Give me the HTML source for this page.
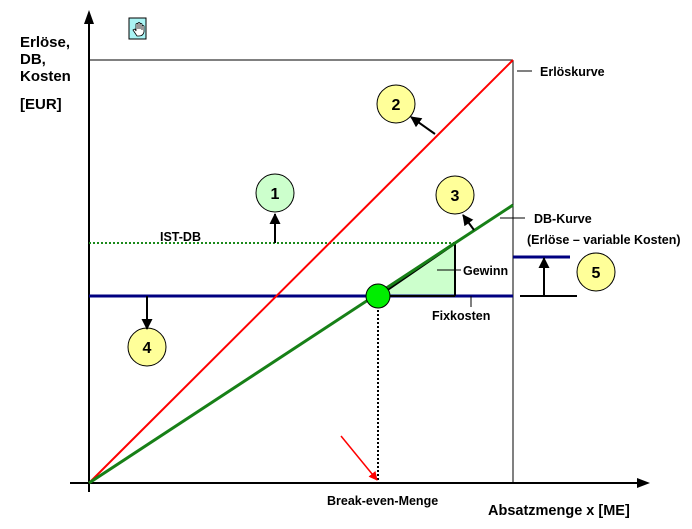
<!DOCTYPE html>
<html><head><meta charset="utf-8"><style>
html,body{margin:0;padding:0;background:#fff;width:692px;height:529px;overflow:hidden}
text{font-family:"Liberation Sans",Arial,sans-serif;font-weight:bold;fill:#000}
</style></head><body>
<svg width="692" height="529" viewBox="0 0 692 529" xmlns="http://www.w3.org/2000/svg">
<defs>
<marker id="ah" markerWidth="11" markerHeight="11" refX="10" refY="5.5" orient="auto" markerUnits="userSpaceOnUse"><path d="M0,0 L11,5.5 L0,11z" fill="#000"/></marker>
<marker id="ar" markerWidth="9" markerHeight="9" refX="8" refY="4.5" orient="auto" markerUnits="userSpaceOnUse"><path d="M0,0 L9,4.5 L0,9z" fill="#f00"/></marker>
</defs>
<!-- frame -->
<line x1="89" y1="60" x2="513" y2="60" stroke="#000" stroke-width="1"/>
<line x1="513" y1="60" x2="513" y2="483" stroke="#000" stroke-width="1"/>
<!-- axes -->
<line x1="89" y1="20" x2="89" y2="492" stroke="#000" stroke-width="2"/>
<path d="M89,10 L84,24 L94,24z" fill="#000"/>
<line x1="70" y1="483" x2="640" y2="483" stroke="#000" stroke-width="2"/>
<path d="M650,483 L637,478 L637,488z" fill="#000"/>
<!-- IST-DB -->
<line x1="89" y1="243" x2="455" y2="243" stroke="#1a8a1a" stroke-width="2" stroke-dasharray="2,2"/>
<!-- triangle -->
<path d="M378,296 L455,243 L455,296z" fill="#ccffcc"/>
<!-- fixkosten -->
<line x1="89" y1="296" x2="513" y2="296" stroke="#000080" stroke-width="3"/>
<line x1="378" y1="296" x2="455" y2="243" stroke="#000" stroke-width="3"/>
<line x1="455" y1="243" x2="455" y2="296" stroke="#000" stroke-width="2"/>
<line x1="380" y1="296" x2="455" y2="296" stroke="#000" stroke-width="2"/>
<!-- curves -->
<line x1="89" y1="483" x2="513" y2="60" stroke="#f00" stroke-width="2"/>
<line x1="89" y1="483" x2="513" y2="205" stroke="#178017" stroke-width="3"/>
<!-- dotted vertical -->
<line x1="378" y1="306" x2="378" y2="483" stroke="#000" stroke-width="2" stroke-dasharray="2,2"/>
<!-- red arrow -->
<line x1="341" y1="436" x2="377" y2="480" stroke="#f00" stroke-width="1.5" marker-end="url(#ar)"/>
<!-- break-even dot -->
<circle cx="378" cy="296" r="12" fill="#00ee00" stroke="#000" stroke-width="1"/>
<!-- label ticks -->
<line x1="517" y1="71" x2="532" y2="71" stroke="#000"/>
<line x1="500" y1="218" x2="525" y2="218" stroke="#000"/>
<line x1="437" y1="270" x2="461" y2="270" stroke="#000"/>
<line x1="471" y1="296" x2="471" y2="307" stroke="#000"/>
<!-- 5 -->
<line x1="513" y1="257" x2="570" y2="257" stroke="#000080" stroke-width="3"/>
<line x1="520" y1="296" x2="577" y2="296" stroke="#000" stroke-width="2"/>
<!-- circles -->
<g stroke="#000" stroke-width="1">
<circle cx="275" cy="193" r="19" fill="#ccffcc"/>
<circle cx="396" cy="104" r="19" fill="#ffff99"/>
<circle cx="455" cy="195" r="19" fill="#ffff99"/>
<circle cx="147" cy="347" r="19" fill="#ffff99"/>
<circle cx="596" cy="272" r="19" fill="#ffff99"/>
</g>
<g font-size="16" text-anchor="middle">
<text x="275" y="199">1</text>
<text x="396" y="110">2</text>
<text x="455" y="201">3</text>
<text x="147" y="353">4</text>
<text x="596" y="278">5</text>
</g>
<!-- arrows -->
<line x1="544" y1="296" x2="544" y2="258" stroke="#000" stroke-width="2" marker-end="url(#ah)"/>
<line x1="275" y1="243" x2="275" y2="214" stroke="#000" stroke-width="2" marker-end="url(#ah)"/>
<line x1="435" y1="134" x2="411" y2="117" stroke="#000" stroke-width="2" marker-end="url(#ah)"/>
<line x1="474" y1="230" x2="463" y2="215" stroke="#000" stroke-width="2" marker-end="url(#ah)"/>
<line x1="147" y1="296" x2="147" y2="329" stroke="#000" stroke-width="2" marker-end="url(#ah)"/>
<!-- hand icon -->
<rect x="129" y="18" width="17" height="21" fill="#aaf4f4" stroke="#000" stroke-width="1"/>
<path d="M133,30 L135,29 L136,31 L136,24 Q137,23 138,24 L138,29 L138,23 Q139,22 140,23 L140,29 L140,24 Q141,23 142,24 L142,30 L142,26 Q143,25 144,26 L144,32 Q143,36 139,36 L137,36 Z" fill="#fff" stroke="#000" stroke-width="0.8"/>
<!-- labels -->
<g font-size="15">
<text x="20" y="47">Erlöse,</text>
<text x="20" y="64">DB,</text>
<text x="20" y="81">Kosten</text>
<text x="20" y="109">[EUR]</text>
</g>
<g font-size="12.5">
<text x="540" y="76">Erlöskurve</text>
<text x="534" y="223">DB-Kurve</text>
<text x="527" y="244">(Erlöse – variable Kosten)</text>
<text x="463" y="275">Gewinn</text>
<text x="432" y="320">Fixkosten</text>
<text x="160" y="241">IST-DB</text>
<text x="327" y="505">Break-even-Menge</text>
</g>
<text x="488" y="515" font-size="14.5">Absatzmenge x [ME]</text>
</svg>
</body></html>
